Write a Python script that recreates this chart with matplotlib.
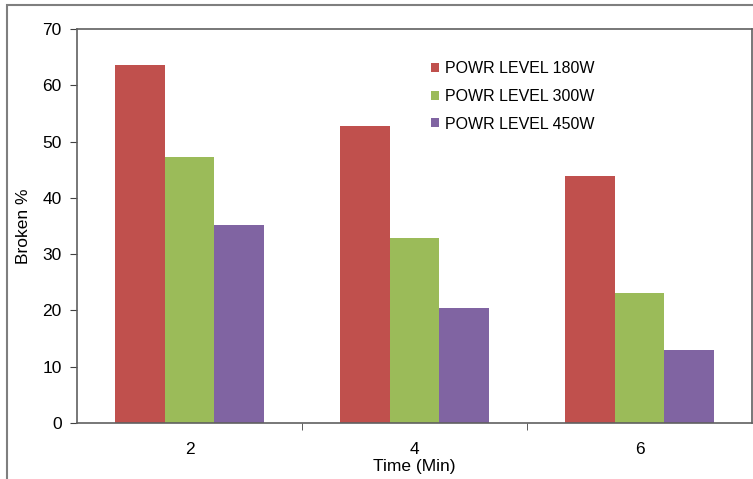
import matplotlib.pyplot as plt
import numpy as np
from matplotlib.patches import Rectangle

plt.rcParams['font.family'] = ['Liberation Sans', 'DejaVu Sans']

# Broken % after microwave treatment
times = ['2', '4', '6']
series_names = ['POWR LEVEL 180W', 'POWR LEVEL 300W', 'POWR LEVEL 450W']
broken_180w = [63.6, 52.8, 43.9]
broken_300w = [47.2, 32.9, 23.1]
broken_450w = [35.2, 20.4, 13.0]

colors = ['#C0504D', '#9BBB59', '#8064A2']

fig = plt.figure(figsize=(7.53, 4.79), dpi=100)
ax = fig.add_axes([77 / 753, 1 - 423 / 479, (752 - 77) / 753, (423 - 29) / 479])

# outer frame of the chart area
fig.add_artist(Rectangle((7 / 753, -0.1), 1.2, 1 - 5 / 479 + 0.1,
                         transform=fig.transFigure, fill=False,
                         edgecolor='#7f7f7f', linewidth=1.5))

x = np.arange(len(times))
width = 0.222
for i, (vals, c, name) in enumerate(zip([broken_180w, broken_300w, broken_450w],
                                         colors, series_names)):
    ax.bar(x + (i - 1) * width, vals, width, color=c, label=name,
           edgecolor='none')

ax.set_xlim(-0.5, 2.5)
ax.set_ylim(0, 70)
ax.set_yticks(np.arange(0, 71, 10))
ax.set_xticks(x)
ax.set_xticklabels(times)
ax.set_xticks([0.5, 1.5], minor=True)
ax.tick_params(axis='x', which='major', length=0, labelsize=12.5, pad=14)
ax.tick_params(axis='x', which='minor', length=5, direction='out',
               color='#404040')
ax.tick_params(axis='y', length=5, direction='out', labelsize=12.5,
               color='#404040', pad=6)

for s in ax.spines.values():
    s.set_color('#606060')
    s.set_linewidth(1.2)

ax.set_xlabel('Time (Min)', fontsize=12.5, labelpad=1)
ax.set_ylabel('Broken %', fontsize=12.5, labelpad=8)

ax.legend(loc='upper left', bbox_to_anchor=(348 / 675, 0.935), frameon=False,
          fontsize=11.5, handlelength=0.5, handleheight=0.5,
          handletextpad=0.35, labelspacing=0.8, borderaxespad=0)

plt.savefig('out.png', dpi=100, facecolor='white')
